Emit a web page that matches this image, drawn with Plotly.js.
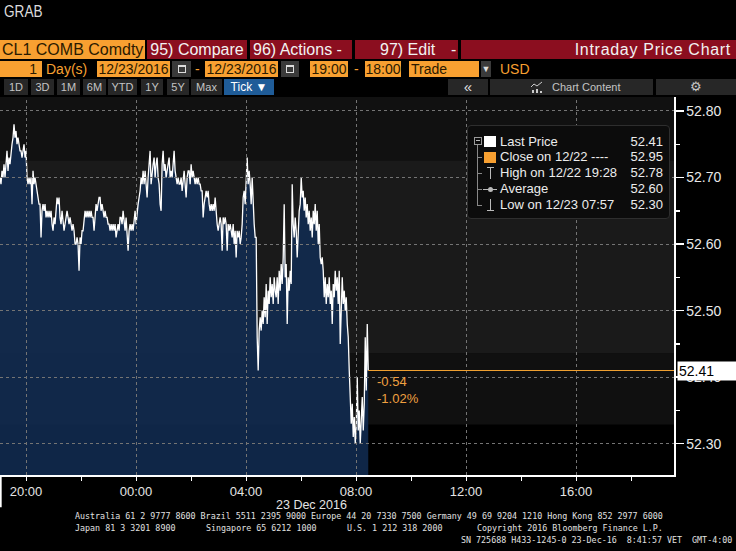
<!DOCTYPE html>
<html><head><meta charset="utf-8">
<script src="https://cdn.plot.ly/plotly-3.0.1.min.js"></script>
<style>
html,body{margin:0;padding:0;background:#000;width:736px;height:551px;overflow:hidden;}
body{position:relative;font-family:"Liberation Sans",Arial,sans-serif;}
.a{position:absolute;white-space:nowrap;box-sizing:border-box;}
.r1{top:40px;height:19px;line-height:19px;font-size:16px;}
.red{background:#8b0e1f;color:#f2f2f2;}
.org{background:#f8a031;color:#2b1a00;}
.r2{top:61px;height:16px;line-height:16px;font-size:14px;}
.r3{top:79px;height:16px;line-height:16px;font-size:11px;background:#272727;color:#c4c4c4;text-align:center;}
.lg{font-size:13px;color:#ececec;line-height:16px;height:16px;}
.ft{font-family:"DejaVu Sans Mono","Liberation Mono",monospace;font-size:8.35px;color:#e0e0e0;line-height:9px;}
#chart{position:absolute;left:0;top:97px;width:736px;height:454px;}
</style></head>
<body>
<div class="a" style="left:4px;top:2px;font-size:17px;color:#dcdcdc;transform:scaleX(0.8);transform-origin:left;">GRAB</div>

<div class="a r1 org" style="left:0;width:145px;padding-left:2px;">CL1 COMB Comdty</div>
<div class="a r1 red" style="left:147px;width:100px;text-align:center;">95) Compare</div>
<div class="a r1 red" style="left:250px;width:102px;padding-left:3px;">96) Actions -</div>
<div class="a r1 red" style="left:355px;width:103px;padding-left:25px;">97) Edit <span style="position:absolute;left:96px;">-</span></div>
<div class="a r1 red" style="left:461px;width:275px;text-align:right;padding-right:5px;letter-spacing:0.7px;">Intraday Price Chart</div>

<div class="a r2 org" style="left:0;width:42px;text-align:right;padding-right:5px;">1</div>
<div class="a r2" style="left:46px;color:#f8a031;">Day(s)</div>
<div class="a r2 org" style="left:97px;width:73px;text-align:center;">12/23/2016</div>
<div class="a r2" style="left:172px;width:19px;background:#3a3a3a;"><div class="a" style="left:6px;top:4px;width:8px;height:8px;border:1px solid #ddd;border-top-width:2px;"></div></div>
<div class="a r2" style="left:195px;color:#f8a031;">-</div>
<div class="a r2 org" style="left:205px;width:73px;text-align:center;">12/23/2016</div>
<div class="a r2" style="left:281px;width:18px;background:#3a3a3a;"><div class="a" style="left:5px;top:4px;width:8px;height:8px;border:1px solid #ddd;border-top-width:2px;"></div></div>
<div class="a r2 org" style="left:310px;width:38px;text-align:center;">19:00</div>
<div class="a r2" style="left:354px;color:#f8a031;">-</div>
<div class="a r2 org" style="left:365px;width:36px;text-align:center;">18:00</div>
<div class="a r2 org" style="left:409px;width:70px;padding-left:2px;">Trade</div>
<div class="a r2" style="left:481px;width:10px;background:#3a3a3a;color:#ddd;font-size:9px;text-align:center;">&#9660;</div>
<div class="a r2" style="left:500px;color:#f8a031;">USD</div>

<div class="a r3" style="left:4px;width:24px;">1D</div>
<div class="a r3" style="left:31px;width:23px;">3D</div>
<div class="a r3" style="left:57px;width:23px;">1M</div>
<div class="a r3" style="left:83px;width:23px;">6M</div>
<div class="a r3" style="left:108px;width:29px;">YTD</div>
<div class="a r3" style="left:141px;width:22px;">1Y</div>
<div class="a r3" style="left:167px;width:22px;">5Y</div>
<div class="a r3" style="left:191px;width:31px;">Max</div>
<div class="a r3" style="left:224px;width:50px;background:#1f5c98;color:#fff;font-size:12px;">Tick &#9660;</div>
<div class="a r3" style="left:448px;width:40px;font-size:15px;color:#ddd;line-height:15px;">&#171;</div>
<div class="a r3" style="left:490px;width:163px;"><svg class="a" style="left:40px;top:2px;" width="14" height="12"><polyline points="1,6 4,3 7,5 12,1" fill="none" stroke="#ccc" stroke-width="1"/><rect x="2" y="9" width="2" height="3" fill="#ccc"/><rect x="6" y="8" width="2" height="4" fill="#ccc"/><rect x="10" y="10" width="2" height="2" fill="#ccc"/></svg><span style="position:absolute;left:62px;">Chart Content</span></div>
<div class="a r3" style="left:656px;width:80px;font-size:13px;">&#9881;</div>

<div id="chart"></div>

<div class="a" style="left:467px;top:125px;width:203px;height:94px;background:#0c0c0c;border:1px solid #2e2e2e;border-radius:4px;"></div>
<div class="a" style="left:474px;top:137px;width:8px;height:8px;border:1px solid #999;"></div>
<div class="a" style="left:476px;top:140px;width:4px;height:1px;background:#bbb;"></div>
<div class="a" style="left:477px;top:145px;width:1px;height:61px;background:#888;"></div>
<div class="a" style="left:477px;top:157px;width:5px;height:1px;background:#888;"></div>
<div class="a" style="left:477px;top:173px;width:5px;height:1px;background:#888;"></div>
<div class="a" style="left:477px;top:189px;width:5px;height:1px;background:#888;"></div>
<div class="a" style="left:477px;top:205px;width:5px;height:1px;background:#888;"></div>
<div class="a" style="left:484px;top:136px;width:12px;height:11px;background:#fff;"></div>
<div class="a" style="left:484px;top:152px;width:12px;height:11px;background:#f8a031;"></div>
<div class="a" style="left:487px;top:167px;width:7px;height:1px;background:#bbb;"></div>
<div class="a" style="left:490px;top:167px;width:1px;height:12px;background:#bbb;"></div>
<div class="a" style="left:483px;top:189px;width:14px;height:1px;background:#bbb;"></div>
<div class="a" style="left:488px;top:187px;width:5px;height:5px;border-radius:50%;background:#bbb;"></div>
<div class="a" style="left:490px;top:199px;width:1px;height:12px;background:#bbb;"></div>
<div class="a" style="left:487px;top:210px;width:7px;height:1px;background:#bbb;"></div>
<div id="legend"></div>

<div class="a ft" style="left:75px;top:512px;">Australia 61 2 9777 8600 Brazil 5511 2395 9000 Europe 44 20 7330 7500 Germany 49 69 9204 1210 Hong Kong 852 2977 6000</div>
<div class="a ft" style="left:75px;top:524px;">Japan 81 3 3201 8900</div>
<div class="a ft" style="left:206px;top:524px;">Singapore 65 6212 1000</div>
<div class="a ft" style="left:347px;top:524px;">U.S. 1 212 318 2000</div>
<div class="a ft" style="left:477px;top:524px;">Copyright 2016 Bloomberg Finance L.P.</div>
<div class="a ft" style="left:461px;top:536px;">SN 725688 H433-1245-0 23-Dec-16&nbsp; 8:41:57 VET&nbsp; GMT-4:00</div>

<script>
// ---- data (CL1 tick prices, sampled about every 131 s from 19:03:16 on 12/22) ----
const startTime = Date.UTC(2016, 11, 22, 19, 3, 16);
const stepSeconds = 131;
const prices = [
52.70,52.69,52.71,52.70,52.72,52.70,52.72,52.74,52.71,52.73,
52.72,52.74,52.75,52.76,52.78,52.76,52.77,52.75,52.76,52.75,
52.74,52.74,52.73,52.74,52.75,52.73,52.74,52.70,52.69,52.70,
52.69,52.70,52.66,52.71,52.69,52.70,52.69,52.68,52.67,52.66,
52.66,52.61,52.65,52.66,52.65,52.66,52.64,52.65,52.64,52.65,
52.64,52.65,52.63,52.62,52.64,52.63,52.65,52.67,52.66,52.67,
52.64,52.63,52.65,52.63,52.62,52.63,52.64,52.65,52.64,52.63,
52.64,52.63,52.62,52.63,52.62,52.60,52.60,52.61,52.60,52.56,
52.61,52.60,52.62,52.62,52.64,52.65,52.64,52.65,52.64,52.65,
52.64,52.65,52.64,52.64,52.62,52.65,52.66,52.65,52.66,52.67,
52.67,52.65,52.66,52.65,52.64,52.65,52.64,52.64,52.63,52.63,
52.62,52.63,52.62,52.63,52.62,52.63,52.61,52.62,52.63,52.62,
52.64,52.64,52.63,52.65,52.63,52.62,52.64,52.61,52.59,52.62,
52.63,52.62,52.63,52.62,52.64,52.65,52.63,52.65,52.66,52.67,
52.68,52.70,52.69,52.71,52.69,52.71,52.68,52.67,52.70,52.72,
52.74,52.69,52.71,52.72,52.73,52.70,52.72,52.73,52.70,52.69,
52.66,52.65,52.72,52.74,52.71,52.72,52.70,52.71,52.72,52.73,
52.70,52.71,52.70,52.72,52.74,52.71,52.70,52.69,52.70,52.69,
52.69,52.70,52.68,52.70,52.71,52.69,52.67,52.70,52.71,52.71,
52.69,52.72,52.70,52.71,52.70,52.69,52.70,52.69,52.70,52.69,
52.69,52.68,52.68,52.64,52.66,52.67,52.68,52.67,52.68,52.66,
52.65,52.66,52.65,52.66,52.65,52.67,52.64,52.63,52.62,52.63,
52.64,52.63,52.59,52.64,52.63,52.64,52.63,52.59,52.63,52.62,
52.63,52.62,52.61,52.63,52.60,52.62,52.58,52.62,52.61,52.62,
52.60,52.61,52.63,52.67,52.68,52.66,52.70,52.73,52.69,52.71,
52.69,52.66,52.70,52.65,52.63,52.61,52.61,52.46,52.41,52.47,
52.49,52.47,52.50,52.48,52.52,52.49,52.54,52.48,52.53,52.51,
52.55,52.52,52.54,52.51,52.55,52.53,52.52,52.55,52.51,52.56,
52.53,52.57,52.54,52.58,52.66,52.55,52.57,52.48,52.55,52.53,
52.56,52.54,52.69,52.63,52.61,52.64,52.62,52.58,52.63,52.65,
52.66,52.70,52.67,52.68,52.65,52.67,52.64,52.66,52.63,52.65,
52.62,52.64,52.61,52.65,52.63,52.66,52.62,52.65,52.60,52.63,
52.58,52.57,52.58,52.56,52.52,52.55,52.51,52.54,52.52,52.55,
52.51,52.53,52.48,52.54,52.52,52.56,52.53,52.55,52.51,52.56,
52.45,52.53,52.55,52.51,52.53,52.50,52.52,52.48,52.46,52.41,
52.38,52.33,52.36,52.31,52.34,52.30,52.33,52.40,52.32,52.35,
52.30,52.33,52.37,52.32,52.36,52.46,52.38,52.48,52.41
];
const lastPrice = 52.41;
const changeText = ['-0.54', '-1.02%'];
const legendLabels = ['Last Price', 'Close on 12/22 ----', 'High on 12/22 19:28', 'Average', 'Low on 12/23 07:57'];
const legendValues = ['52.41', '52.95', '52.78', '52.60', '52.30'];
const dayLabel = '23 Dec 2016';
const xRange = ['2016-12-22 19:03:16', '2016-12-23 19:33:49'];
const yRange = [52.253, 52.821];
const xTickTimes = ['2016-12-22 20:00', '2016-12-23 00:00', '2016-12-23 04:00', '2016-12-23 08:00', '2016-12-23 12:00', '2016-12-23 16:00'];
const yTickValues = [52.30, 52.40, 52.50, 52.60, 52.70, 52.80];
// background shading bands [low, high, colour]
const bandEdges = [52.20, 52.329, 52.436, 52.726, 52.90];
const bandColors = ['#000000', '#101010', '#1a1a1a', '#111111'];

const times = prices.map((p, i) => new Date(startTime + i * stepSeconds * 1000).toISOString().replace('T', ' ').slice(0, 19));

// legend text
const lg = document.getElementById('legend');
const rowCenters = [142, 157, 173, 189, 205];
legendLabels.forEach((t, i) => {
  const d = document.createElement('div');
  d.className = 'a lg'; d.style.left = '500px'; d.style.top = (rowCenters[i] - 8) + 'px';
  d.textContent = t; lg.appendChild(d);
  const v = document.createElement('div');
  v.className = 'a lg'; v.style.left = '602px'; v.style.width = '61px'; v.style.textAlign = 'right';
  v.style.top = (rowCenters[i] - 8) + 'px'; v.textContent = legendValues[i]; lg.appendChild(v);
});

const shapes = [];
for (let i = 0; i < bandColors.length; i++) {
  shapes.push({type: 'rect', layer: 'below', xref: 'paper', x0: 0, x1: 1, yref: 'y', y0: bandEdges[i], y1: bandEdges[i + 1], fillcolor: bandColors[i], line: {width: 0}});
}
const gridStyle = {color: '#747474', width: 1, dash: '3px,3px'};
xTickTimes.forEach(t => shapes.push({type: 'line', layer: 'above', xref: 'x', yref: 'y', x0: t, x1: t, y0: yRange[0], y1: yRange[1], line: Object.assign({}, gridStyle)}));
yTickValues.forEach(v => shapes.push({type: 'line', layer: 'above', xref: 'x', yref: 'y', x0: xRange[0], x1: xRange[1], y0: v, y1: v, line: Object.assign({}, gridStyle)}));
shapes.push({type: 'line', layer: 'above', xref: 'x', yref: 'y', x0: times[times.length - 1], x1: xRange[1], y0: lastPrice, y1: lastPrice, line: {color: '#f0a030', width: 1.2}});
shapes.push({type: 'line', layer: 'above', xref: 'paper', yref: 'paper', x0: 0.001, x1: 0.001, y0: 0, y1: -0.085, line: {color: '#ffffff', width: 2}});

const trace = {
  x: times, y: prices, type: 'scatter', mode: 'lines',
  line: {color: '#ffffff', width: 1.3},
  fill: 'tozeroy', fillcolor: 'rgba(18,45,84,0.85)', hoverinfo: 'skip'
};

const font = {family: '"Liberation Sans", Arial, sans-serif', color: '#e4e4e4', size: 13};
const layout = {
  width: 736, height: 454,
  margin: {l: 0, r: 62, t: 0, b: 76},
  paper_bgcolor: '#000', plot_bgcolor: '#000',
  showlegend: false, font: font,
  xaxis: {
    type: 'date', range: xRange, tickmode: 'array', tickvals: xTickTimes,
    tickformat: '%H:%M', ticks: 'outside', ticklen: 4, tickcolor: '#fff', tickwidth: 1,
    showline: true, linecolor: '#fff', linewidth: 1.5,
    showgrid: false, zeroline: false, tickfont: {size: 13, color: '#e4e4e4'},
    minor: {tick0: '2016-12-22 20:00', dtick: 2 * 3600 * 1000, ticks: 'outside', ticklen: 4, tickcolor: '#fff', showgrid: false}
  },
  yaxis: {
    side: 'right', range: yRange, tickmode: 'array', tickvals: yTickValues, tickformat: '.2f',
    ticks: 'outside', ticklen: 8, tickcolor: '#fff', tickwidth: 1.5,
    showline: true, linecolor: '#fff', linewidth: 1.5,
    showgrid: false, zeroline: false, tickfont: {size: 14, color: '#e8e8e8'},
    minor: {tick0: 52.3, dtick: 0.05, ticks: 'outside', ticklen: 4, tickcolor: '#fff', showgrid: false}
  },
  shapes: shapes,
  annotations: [
    {xref: 'paper', yref: 'y', x: 1, y: lastPrice, xanchor: 'left', yanchor: 'middle', xshift: 3,
     text: String(lastPrice.toFixed(2)), showarrow: false, bgcolor: '#ffffff', borderpad: 1,
     font: {size: 14, color: '#000'}, width: 56, align: 'left'},
    {xref: 'x', yref: 'y', x: times[times.length - 1], y: lastPrice, xanchor: 'left', yanchor: 'top',
     xshift: 7, yshift: -1, text: changeText.join('<br>'), showarrow: false, align: 'left',
     font: {size: 13, color: '#f0a040'}},
    {xref: 'paper', yref: 'paper', x: 311 / 674, y: -0.056, xanchor: 'center', yanchor: 'top',
     text: dayLabel, showarrow: false, font: {size: 12.5, color: '#e4e4e4'}}
  ]
};
function fixDashes(gd) {
  // crisp, unit-less dotted grid so it renders sharply
  gd.querySelectorAll('path').forEach(p => {
    const da = p.style.strokeDasharray;
    if (da && da !== 'none') {
      const v = da.replace(/px/g, '').replace(/\s+/g, '');
      p.style.strokeDasharray = v;
      p.setAttribute('stroke-dasharray', v);
      p.style.shapeRendering = 'crispEdges';
    }
  });
}
Plotly.newPlot('chart', [trace], layout, {staticPlot: true, displayModeBar: false}).then(fixDashes);
</script>
</body></html>
